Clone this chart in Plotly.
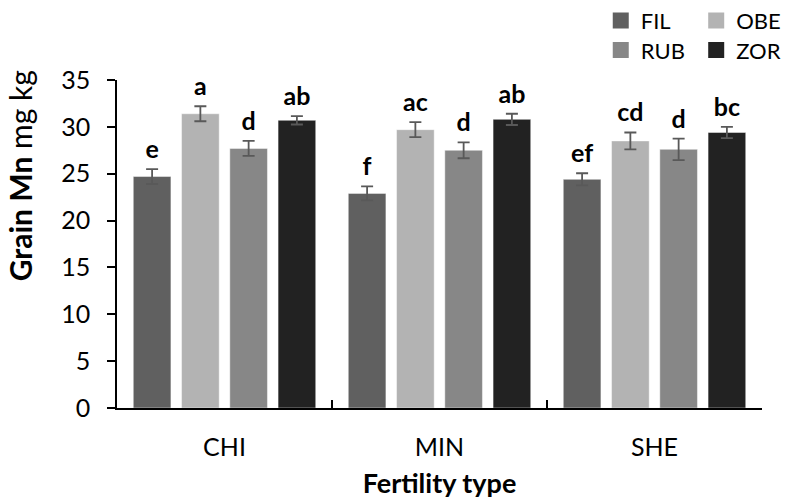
import plotly.graph_objects as go

# Grain Mn concentration by fertility type and cultivar
fertility_types = ["CHI", "MIN", "SHE"]
cultivars = ["FIL", "OBE", "RUB", "ZOR"]
colors = ["#606060", "#b3b3b3", "#878787", "#222222"]

fil_mean = [24.7, 22.9, 24.4]
obe_mean = [31.4, 29.7, 28.5]
rub_mean = [27.7, 27.5, 27.6]
zor_mean = [30.7, 30.8, 29.4]

fil_err = [0.8, 0.75, 0.65]
obe_err = [0.8, 0.8, 0.9]
rub_err = [0.8, 0.85, 1.15]
zor_err = [0.45, 0.6, 0.6]

fil_letters = ["e", "f", "ef"]
obe_letters = ["a", "ac", "cd"]
rub_letters = ["d", "d", "d"]
zor_letters = ["ab", "ab", "bc"]

means = [fil_mean, obe_mean, rub_mean, zor_mean]
errs = [fil_err, obe_err, rub_err, zor_err]
letters = [fil_letters, obe_letters, rub_letters, zor_letters]

FONT = "Lato, 'Open Sans', sans-serif"

fig = go.Figure()

for i, name in enumerate(cultivars):
    fig.add_trace(go.Bar(
        x=fertility_types, y=means[i], name=name,
        offsetgroup=str(i), showlegend=False,
        marker=dict(color=colors[i], line=dict(color="rgba(255,255,255,0.45)", width=1)),
        error_y=dict(type="data", array=errs[i], color="#595959", thickness=1.8, width=6),
    ))

# significance letters above the error bars
for i, name in enumerate(cultivars):
    fig.add_trace(go.Scatter(
        x=fertility_types,
        y=[m + e for m, e in zip(means[i], errs[i])],
        offsetgroup=str(i), mode="markers+text", text=letters[i],
        textposition="top center",
        marker=dict(size=6, color="rgba(0,0,0,0)"),
        textfont=dict(family=FONT, size=25, color="black", weight="bold"),
        showlegend=False, hoverinfo="skip", cliponaxis=False,
    ))

# legend: one small legend per cultivar, laid out as a 2x2 grid
legend_ids = ["legend", "legend2", "legend3", "legend4"]
legend_pos = [(0.75, 1.245), (0.898, 1.245), (0.75, 1.155), (0.898, 1.155)]
for i, name in enumerate(cultivars):
    fig.add_trace(go.Scatter(
        x=[None], y=[None], mode="markers", name=name,
        marker=dict(symbol="square", size=17, color=colors[i]),
        legend=legend_ids[i],
    ))

legend_layout = {}
for lid, (lx, ly) in zip(legend_ids, legend_pos):
    legend_layout[lid] = dict(
        x=lx, y=ly, xanchor="left", yanchor="top",
        font=dict(family=FONT, size=22, color="black"),
        bgcolor="rgba(0,0,0,0)", itemclick=False, itemdoubleclick=False,
        itemwidth=30,
    )

fig.update_layout(
    width=785, height=502,
    margin=dict(l=117, r=23, t=80, b=94, autoexpand=False),
    paper_bgcolor="white", plot_bgcolor="white",
    barmode="group", scattermode="group",
    bargap=0.102, bargroupgap=0.22,
    font=dict(family=FONT, size=25, color="black"),
    xaxis=dict(
        showline=True, linecolor="black", linewidth=1.5,
        ticks="inside", ticklen=8, tickcolor="black", tickwidth=1.5,
        tickson="boundaries", ticklabelstandoff=16,
        tickfont=dict(family=FONT, size=25),
        showgrid=False, zeroline=False,
        title=dict(text="<b>Fertility type</b>", font=dict(family=FONT, size=27), standoff=14),
    ),
    yaxis=dict(
        range=[0, 35], dtick=5,
        showline=True, linecolor="black", linewidth=1.5,
        ticks="outside", ticklen=8, tickcolor="black", tickwidth=1.5,
        ticklabelstandoff=12,
        tickfont=dict(family=FONT, size=25),
        showgrid=False, zeroline=False,
    ),
    annotations=[dict(
        text="<b>Grain Mn</b> mg kg", textangle=-90,
        xref="paper", yref="paper", x=-0.15, y=0.707,
        xanchor="center", yanchor="middle", showarrow=False,
        font=dict(family=FONT, size=30, color="black"),
    )],
    **legend_layout,
)

fig.write_html("out.html")
